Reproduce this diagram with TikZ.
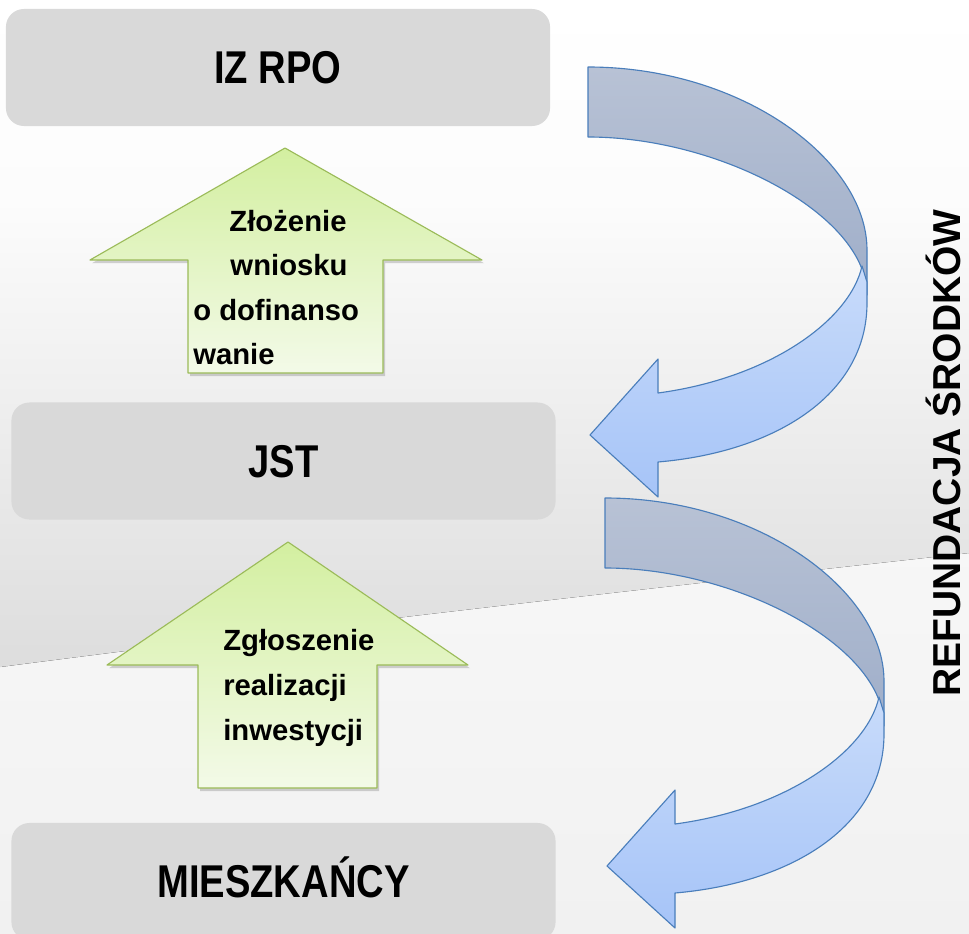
\documentclass[tikz,border=0pt]{standalone}
\usepackage{fontspec}
\setmainfont{Liberation Sans}
\newfontfamily\narrowsans{Liberation Sans}[FakeStretch=0.83]
\usetikzlibrary{shadows}
\definecolor{paper}{HTML}{FFFFFF}
\definecolor{paperbot}{HTML}{F1F1F1}
\definecolor{bandtop}{HTML}{FCFCFC}
\definecolor{bandbot}{HTML}{DDDDDD}
\definecolor{boxgray}{HTML}{D9D9D9}
\definecolor{greenedge}{HTML}{9BBB59}
\definecolor{greentop}{HTML}{D3EFA0}
\definecolor{greenbot}{HTML}{F3FAE8}
\definecolor{blueedge}{HTML}{4A7EBB}
\definecolor{backtop}{HTML}{B8C2D5}
\definecolor{backbot}{HTML}{9FAEC9}
\definecolor{fronttop}{HTML}{C8DBFA}
\definecolor{frontbot}{HTML}{A6C4F8}

\begin{document}
\begin{tikzpicture}[x=0.025cm, y=-0.025cm, line join=round,
  box/.style={fill=boxgray, rounded corners=0.45cm, minimum width=13.6cm,
              minimum height=2.925cm, inner sep=0pt, text height=23.4pt, text depth=0pt,
              font=\narrowsans\bfseries\fontsize{32.7}{36}\selectfont},
  lbl/.style={font=\bfseries\fontsize{20.8}{25}\selectfont, inner sep=0pt},
  side/.style={font=\bfseries\fontsize{27.7}{32}\selectfont, inner sep=0pt},
  uparrow/.style={draw=greenedge, line width=0.8pt, top color=greentop, bottom color=greenbot,
                  drop shadow={shadow xshift=0.05cm, shadow yshift=-0.08cm, opacity=0.35}},
  backband/.style={draw=blueedge, line width=0.8pt, top color=backtop, bottom color=backbot},
  frontband/.style={draw=blueedge, line width=0.8pt, top color=fronttop, bottom color=frontbot}]

\useasboundingbox (0,0) rectangle (969,934);
\clip (0,0) rectangle (969,934);

% ---------------------------------------------------------------- background
\fill[top color=paper, bottom color=paperbot] (0,0) rectangle (969,934);
\fill[top color=bandtop, bottom color=bandbot]
  (0,200) -- (969,200) -- (969,553)
  .. controls (800,572) and (400,615) .. (0,667) -- cycle;

% ---------------------------------------------------------------- boxes
\node[box] (izrpo)  at (278,67.5)    {IZ RPO};
\node[box] (jst)    at (283.5,461)   {JST};
\node[box] (mieszk) at (283.5,881.5) {MIESZKAŃCY};

% ---------------------------------------------------------------- up arrows
\path[uparrow] (285,148) -- (482,260) -- (383,260) -- (383,373)
  -- (188,373) -- (188,260) -- (90,260) -- cycle;
\path[uparrow] (288,542) -- (468,665) -- (377,665) -- (377,788)
  -- (198,788) -- (198,665) -- (107,665) -- cycle;

\node[lbl, anchor=base]      (zl1) at (288,231) {Złożenie};
\node[lbl, anchor=base]      (zl2) at (289,275) {wniosku};
\node[lbl, anchor=base west] (zl3) at (193,320) {o dofinanso};
\node[lbl, anchor=base west] (zl4) at (193,364) {wanie};

\node[lbl, anchor=base west] (zg1) at (223,650) {Zgłoszenie};
\node[lbl, anchor=base west] (zg2) at (223,695) {realizacji};
\node[lbl, anchor=base west] (zg3) at (223,740) {inwestycji};

% ---------------------------------------------------------------- curved arrows
\foreach \dx/\dy in {0/0, 17/431} {
  \begin{scope}[shift={(\dx,\dy)}]
    \path[backband] (588,67) .. controls (742,67) and (867,160) .. (867,250)
      -- (867,295) .. controls (867,215) and (720,137) .. (588,137) -- cycle;
    \path[frontband] (658,393) .. controls (770,378) and (850,320) .. (862,266)
      -- (867,282) -- (867,303) .. controls (867,395) and (775,452) .. (658,462)
      -- (658,497) -- (590,435) -- (658,359) -- cycle;
  \end{scope}
}

\node[side, rotate=90, anchor=base] (refund) at (960,453) {REFUNDACJA ŚRODKÓW};

\end{tikzpicture}
\end{document}
